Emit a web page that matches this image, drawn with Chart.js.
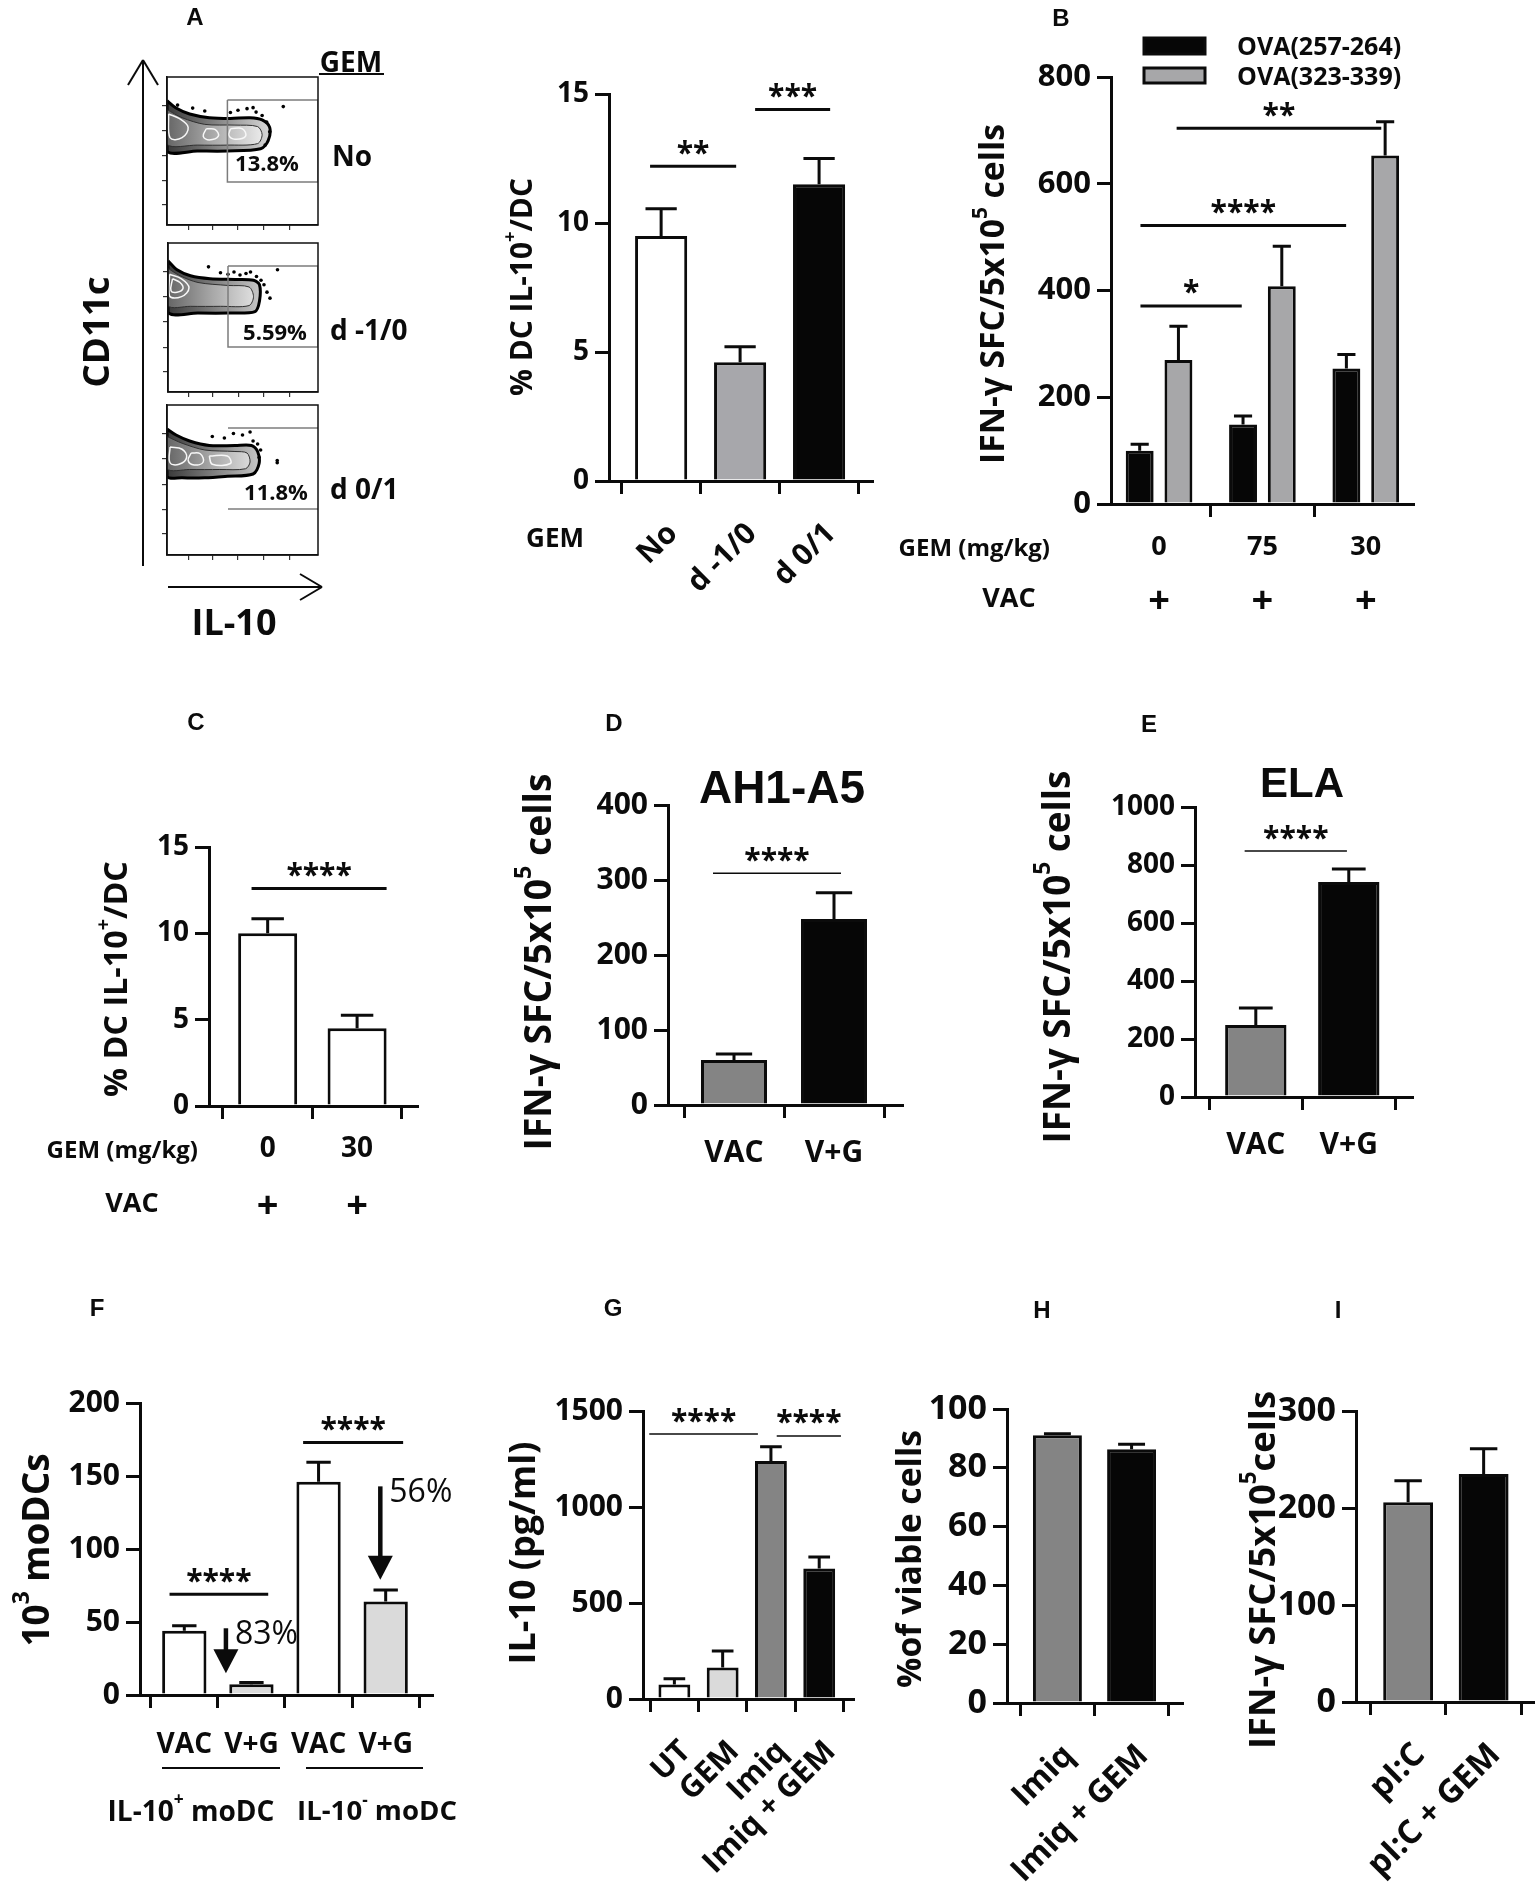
<!DOCTYPE html>
<html lang="en">
<head>
<meta charset="utf-8">
<title>GEM / IL-10 DC figure</title>
<script src="https://cdn.jsdelivr.net/npm/chart.js@4.4.1/dist/chart.umd.min.js"></script>
<style>
  html, body { margin: 0; padding: 0; background: #fff; }
  body { position: relative; width: 1535px; height: 1883px; overflow: hidden; }
  canvas { position: absolute; }
</style>
</head>
<body>
<script>
// ---------- A: flow plots (IL-10 vs CD11c), data space 0..100 ----------
const flowTicks = [14, 30, 47, 64, 81];
const gatePct = ['13.8%', '5.59%', '11.8%'];
const gateGem = ['No', 'd -1/0', 'd 0/1'];

const flow1Outer = [[0,84],[6,79],[15,75],[28,72.5],[42,72],[55,72.5],[63,71],[68,66],[67,57],[62,51.5],[40,50],[20,50],[0,50]];
const flow1Mid = [[0,78],[10,72.5],[25,68],[45,67.5],[60,66.5],[63,61],[60,55],[40,54],[20,54],[0,54.5]];
const flow1Cores = [[[1,75],[8,72],[14,66],[10,59],[2,59]], [[26,65],[32,64.5],[34,60],[28,57.5],[24,60]], [[42,65],[50,65],[52,60],[45,58],[41,60.5]]];
const flow1Dots = [[7,81],[17,79],[25,77],[42,76],[47,77.5],[53,78.6],[57,79.3],[59,76.3],[63,74],[66,69.6],[68,63],[65,54],[77,80]];
const flow1Gate = [[[40,84.5],[100,84.5],[100,29],[40,29],[40,84.5]]];

const flow2Outer = [[0,88],[6,82],[15,78],[28,76],[45,75.5],[57,75],[61,72],[61,61],[58,54],[40,53],[20,53],[0,53.5]];
const flow2Mid = [[0,83],[8,78],[20,73.5],[40,71.5],[54,70.5],[57,64],[54,58],[35,57.5],[15,57.5],[0,58]];
const flow2Cores = [[[1,79],[9,76],[14,70],[9,64],[1,64.5]], [[3,76],[8,73.5],[10,69.5],[6,67],[2,68]]];
const flow2Dots = [[27,84],[35,80],[40,79],[44,80.5],[48,78.5],[52,79.5],[55,80.5],[59,77.5],[62,75],[64,72],[66,67],[68,63],[73,82]];
const flow2Gate = [[[40,84.6],[100,84.6],[100,30.2],[40,30.2],[40,84.6]]];

const flow3Outer = [[0,84],[6,80],[15,76],[28,73],[45,73],[56,73],[60,69],[61,61],[57,54],[40,52.5],[25,51.5],[10,51.5],[0,52.5]];
const flow3Mid = [[0,79],[10,74.5],[25,70],[45,69],[53,68],[55,62],[52,57.5],[35,57],[15,57],[0,57.5]];
const flow3Cores = [[[2,72],[10,70.5],[13,65],[8,60.5],[2,61.5]], [[16,68],[22,67.5],[24,62],[18,60],[14,63]], [[28,66],[40,66],[42,61],[30,60.5]]];
const flow3Dots = [[30,79],[38,78],[44,81],[50,80],[55,82],[57,76],[60,74],[62,70],[61,65],[73,63],[73,61.5]];
const flow3Gate = [[[40.4,84.7],[100,84.7]], [[40.4,30.7],[100,30.7]]];

// ---------- A: bar ----------
const aLabels = ['No', 'd -1/0', 'd 0/1'];
const aMean = [9.5, 4.6, 11.5];
const aSem = [1.05, 0.6, 1.0];
const aTicks = [0, 5, 10, 15];
const aSig = [[-0.14, 0.95, 12.2, '**'], [1.19, 2.14, 14.4, '***']];

// ---------- B ----------
const bDose = ['0', '75', '30'];
const bLegend = ['OVA(257-264)', 'OVA(323-339)'];
const b257 = [100, 149, 254];
const b257Sem = [12, 16, 26];
const b323 = [270, 408, 653];
const b323Sem = [63, 75, 63];
const bTicks = [0, 200, 400, 600, 800];
const bSig = [[-0.18, 0.80, 371, '*'], [-0.18, 1.81, 522, '****'], [0.17, 2.15, 704, '**']];

// ---------- C ----------
const cDose = ['0', '30'];
const cMean = [10.0, 4.5];
const cSem = [0.85, 0.75];
const cTicks = [0, 5, 10, 15];
const cSig = [[-0.18, 1.33, 12.6, '****']];

// ---------- D / E ----------
const deLabels = ['VAC', 'V+G'];
const dMean = [60, 248];
const dSem = [8, 35];
const dTicks = [0, 100, 200, 300, 400];
const dSig = [[-0.21, 1.07, 309, '****']];
const eMean = [248, 741];
const eSem = [59, 45];
const eTicks = [0, 200, 400, 600, 800, 1000];
const eSig = [[-0.12, 0.98, 848, '****']];

// ---------- F ----------
const fLabels = ['VAC', 'V+G', 'VAC', 'V+G'];
const fMean = [44, 7.3, 146, 64];
const fSem = [3.5, 1.2, 13.5, 8];
const fTicks = [0, 50, 100, 150, 200];
const fSig = [[-0.22, 1.25, 69, '****'], [1.77, 3.26, 173, '****']];
const fDrop = [[0.62, 45.7, 14.9, '83%'], [2.92, 142.9, 78.9, '56%']];

// ---------- G / H / I ----------
const gLabels = ['UT', 'GEM', 'Imiq', 'Imiq + GEM'];
const gMean = [76, 164, 1240, 680];
const gSem = [30, 86, 74, 60];
const gTicks = [0, 500, 1000, 1500];
const gSig = [[-0.52, 1.73, 1380, '****'], [2.12, 3.45, 1370, '****']];
const hLabels = ['Imiq', 'Imiq + GEM'];
const hMean = [91.1, 86.3];
const hSem = [0.5, 1.7];
const hTicks = [0, 20, 40, 60, 80, 100];
const iLabels = ['pI:C', 'pI:C + GEM'];
const iMean = [206, 235];
const iSem = [22, 26];
const iTicks = [0, 100, 200, 300];

const INK = '#0b0b0b';
const FF = '"Open Sans", "Noto Sans", sans-serif';
const AF = '"Liberation Sans", Arial, sans-serif';
Chart.defaults.font.family = FF;
Chart.defaults.font.weight = 'bold';
Chart.defaults.color = INK;

function mk(box) {
  const c = document.createElement('canvas');
  c.width = box[2];
  c.height = box[3];
  c.style.left = box[0] + 'px';
  c.style.top = box[1] + 'px';
  document.body.appendChild(c);
  return c;
}

function T(ctx, s, x, y, size, o) {
  o = o || {};
  ctx.font = (o.w || 'bold') + ' ' + size + 'px ' + (o.f || FF);
  ctx.textAlign = o.a || 'center';
  ctx.textBaseline = 'alphabetic';
  const cap = ctx.measureText('H').actualBoundingBoxAscent;
  ctx.fillStyle = o.c || INK;
  ctx.fillText(s, x, y + cap / 2);
}

// text with superscripts, sized to a given length, optionally rotated
function R(ctx, parts, cx, cy, len, rot) {
  const width = size => parts.reduce((w, p) => {
    ctx.font = 'bold ' + (p[1] ? size * 0.62 : size) + 'px ' + FF;
    return w + ctx.measureText(p[0]).width;
  }, 0);
  const size = 100 * len / width(100);
  const total = width(size);
  ctx.save();
  ctx.translate(cx, cy);
  if (rot) ctx.rotate(-Math.PI / 2);
  ctx.font = 'bold ' + size + 'px ' + FF;
  const cap = ctx.measureText('H').actualBoundingBoxAscent;
  ctx.fillStyle = INK;
  ctx.textAlign = 'left';
  ctx.textBaseline = 'alphabetic';
  let x = -total / 2;
  parts.forEach(p => {
    ctx.font = 'bold ' + (p[1] ? size * 0.62 : size) + 'px ' + FF;
    ctx.fillText(p[0], x, cap / 2 - (p[1] ? cap * 0.72 : 0));
    x += ctx.measureText(p[0]).width;
  });
  ctx.restore();
}

function L(ctx, x1, y1, x2, y2, w) {
  ctx.strokeStyle = INK;
  ctx.lineWidth = w || 3;
  ctx.beginPath();
  ctx.moveTo(x1, y1);
  ctx.lineTo(x2, y2);
  ctx.stroke();
}

function sig(ctx, X, Y, s, lw) {
  const y = Y(s[2]);
  L(ctx, X(s[0]), y, X(s[1]), y, lw);
  ctx.font = 'bold 30px ' + FF;
  const m = ctx.measureText('*');
  ctx.fillStyle = INK;
  ctx.textAlign = 'center';
  ctx.textBaseline = 'alphabetic';
  ctx.fillText(s[3], (X(s[0]) + X(s[1])) / 2, y - 19 + (m.actualBoundingBoxAscent - m.actualBoundingBoxDescent) / 2);
}

function arrow(ctx, x, y1, y2) {
  L(ctx, x, y1, x, y2 - 20, 4.5);
  ctx.fillStyle = INK;
  ctx.beginPath();
  ctx.moveTo(x - 12.5, y2 - 24);
  ctx.lineTo(x + 12.5, y2 - 24);
  ctx.lineTo(x, y2);
  ctx.closePath();
  ctx.fill();
}

function drawErr(chart, capW) {
  const ctx = chart.ctx, ys = chart.scales.y;
  chart.data.datasets.forEach((ds, di) => {
    chart.getDatasetMeta(di).data.forEach((bar, i) => {
      const top = ys.getPixelForValue(ds.data[i].y + ds.sem[i]);
      const half = bar.width * capW / 2;
      ctx.save();
      ctx.strokeStyle = INK;
      ctx.lineWidth = 3;
      ctx.beginPath();
      ctx.moveTo(bar.x, bar.y);
      ctx.lineTo(bar.x, top);
      ctx.moveTo(bar.x - half, top);
      ctx.lineTo(bar.x + half, top);
      ctx.stroke();
      ctx.restore();
    });
  });
}

function axisX(p) {
  return {
    type: 'linear', min: p.xr[0], max: p.xr[1], offset: false,
    afterBuildTicks: s => { s.ticks = p.labels.map((_, i) => ({ value: i })); },
    afterFit: s => { s.height = 60; s.paddingLeft = 0; s.paddingRight = 0; },
    ticks: {
      display: !p.rot, callback: v => p.labels[v], font: { size: p.xFont || 28, weight: 'bold' },
      padding: p.xPad ?? 14, autoSkip: false, maxRotation: 0
    },
    grid: { drawOnChartArea: false, tickLength: 13, lineWidth: 3, color: INK },
    border: { color: INK, width: 3 }
  };
}

function axisY(p) {
  return {
    min: 0, max: p.yTicks[p.yTicks.length - 1],
    afterBuildTicks: s => { s.ticks = p.yTicks.map(v => ({ value: v })); },
    afterFit: s => { s.width = 100; s.paddingTop = 0; s.paddingBottom = 0; },
    ticks: { callback: v => String(v), font: { size: p.yFont || 28, weight: 'bold' }, padding: 6 },
    grid: { drawOnChartArea: false, tickLength: 14, lineWidth: 3, color: INK },
    border: { color: INK, width: 3 }
  };
}

function barChart(p) {
  const [bl, bt, bw, bh] = p.box;
  const [ax0, ay0, ax1, ay1] = p.area;
  const datasets = p.series.map(s => ({
    data: s.mean.map((v, i) => ({ x: i, y: v })),
    sem: s.sem,
    backgroundColor: s.color,
    borderColor: INK,
    borderWidth: 3,
    categoryPercentage: p.cp || 1,
    barPercentage: p.bp || 0.66
  }));
  const deco = {
    id: 'deco',
    afterDatasetsDraw(chart) { drawErr(chart, p.capW || 0.55); },
    afterDraw(chart) {
      const ctx = chart.ctx, xs = chart.scales.x, ys = chart.scales.y;
      const X = v => bl + xs.getPixelForValue(v);
      const Y = v => bt + ys.getPixelForValue(v);
      ctx.save();
      ctx.translate(-bl, -bt);
      (p.sig || []).forEach(s => sig(ctx, X, Y, s, p.sigW || 3));
      // slanted category names, right end under the tick
      if (p.rot) p.labels.forEach((s, i) => {
        ctx.save();
        ctx.translate(X(i) + 10, Y(0) + 46);
        ctx.rotate(-Math.PI / 4);
        T(ctx, s, 0, 0, p.xFont, { a: 'right' });
        ctx.restore();
      });
      p.draw(ctx, X, Y);
      ctx.restore();
    }
  };
  new Chart(mk(p.box), {
    type: 'bar',
    data: { datasets },
    options: {
      responsive: false, animation: false, events: [],
      layout: { padding: { left: ax0 - bl - 100, top: ay0 - bt, right: bl + bw - ax1, bottom: bt + bh - ay1 - 60 } },
      plugins: { legend: { display: false }, tooltip: { enabled: false } },
      scales: { x: axisX(p), y: axisY(p) }
    },
    plugins: [deco]
  });
}

function flowChart(box, area, f, draw) {
  const [bl, bt, bw, bh] = box;
  const [ax0, ay0, ax1, ay1] = area;
  const pts = a => a.map(q => ({ x: q[0], y: q[1] }));
  const ring = a => pts(a.concat([a[0]]));
  const shade = (c0, c1, c2) => c => {
    const ca = c.chart.chartArea;
    if (!ca) return c1;
    const g = c.chart.ctx.createLinearGradient(ca.left, 0, ca.left + ca.width * 0.66, 0);
    g.addColorStop(0, c0);
    g.addColorStop(0.45, c1);
    g.addColorStop(1, c2);
    return g;
  };
  const datasets = [
    { order: 10, data: ring(f.outer), showLine: true, fill: 'shape', tension: 0.3, backgroundColor: shade('#3a3a3a', '#7c7c7c', '#d2d2d2'), borderColor: '#000', borderWidth: 3, pointRadius: 0 },
    { order: 9, data: ring(f.mid), showLine: true, fill: 'shape', tension: 0.3, backgroundColor: shade('#666666', '#a8a8a8', '#f0f0f0'), borderColor: '#303030', borderWidth: 1, pointRadius: 0 }
  ];
  f.cores.forEach(c => datasets.push({ order: 8, data: ring(c), showLine: true, fill: false, tension: 0.4, borderColor: '#f7f7f7', borderWidth: 1.5, pointRadius: 0 }));
  datasets.push({ order: 7, data: pts(f.dots), pointRadius: 1.8, pointBackgroundColor: '#000', pointBorderWidth: 0 });
  f.gate.forEach(g => datasets.push({ order: 6, data: pts(g), showLine: true, fill: false, borderColor: '#7c7c7c', borderWidth: 1.5, pointRadius: 0 }));
  const flowAxis = w => ({
    type: 'linear', min: 0, max: 100,
    afterBuildTicks: s => { s.ticks = flowTicks.map(v => ({ value: v })); },
    afterFit: s => { if (w) s.width = 6; else s.height = 6; s.paddingLeft = 0; s.paddingRight = 0; s.paddingTop = 0; s.paddingBottom = 0; },
    ticks: { display: false },
    grid: { drawOnChartArea: false, tickLength: 5, lineWidth: 1.2, color: '#333' },
    border: { color: '#111', width: 1.5 }
  });
  new Chart(mk(box), {
    type: 'scatter',
    data: { datasets },
    options: {
      responsive: false, animation: false, events: [],
      layout: { padding: { left: ax0 - bl - 6, top: ay0 - bt, right: bl + bw - ax1, bottom: bt + bh - ay1 - 6 } },
      plugins: { legend: { display: false }, tooltip: { enabled: false } },
      scales: { x: flowAxis(false), y: flowAxis(true) }
    },
    plugins: [{
      id: 'frame',
      afterDraw(chart) {
        const ctx = chart.ctx, ca = chart.chartArea;
        ctx.save();
        ctx.strokeStyle = '#111';
        ctx.lineWidth = 1.5;
        ctx.strokeRect(ca.left, ca.top, ca.width, ca.height);
        ctx.translate(-bl, -bt);
        draw(ctx);
        ctx.restore();
      }
    }]
  });
}

// ---- A: flow ----
flowChart([0, 0, 440, 660], [167, 77, 318, 225],
  { outer: flow1Outer, mid: flow1Mid, cores: flow1Cores, dots: flow1Dots, gate: flow1Gate },
  ctx => {
    T(ctx, 'A', 195, 16, 24, { f: AF });
    T(ctx, 'GEM', 351, 61, 28);
    L(ctx, 319, 74, 384, 74, 2);
    T(ctx, gatePct[0], 267, 163, 22);
    T(ctx, gateGem[0], 332, 155, 28, { a: 'left' });
    L(ctx, 143, 60, 143, 566, 2);
    L(ctx, 128, 85, 143, 60, 2);
    L(ctx, 158, 85, 143, 60, 2);
    R(ctx, [['CD11c']], 96, 332, 111, true);
    L(ctx, 168, 587, 322, 587, 2);
    L(ctx, 300, 574, 322, 587, 2);
    L(ctx, 300, 600, 322, 587, 2);
    T(ctx, 'IL-10', 234, 622, 36);
  });
flowChart([150, 236, 290, 165], [168, 243, 318, 392],
  { outer: flow2Outer, mid: flow2Mid, cores: flow2Cores, dots: flow2Dots, gate: flow2Gate },
  ctx => {
    T(ctx, gatePct[1], 275, 332, 22);
    T(ctx, gateGem[1], 330, 329, 28, { a: 'left' });
  });
flowChart([150, 398, 290, 170], [167, 405, 318, 555],
  { outer: flow3Outer, mid: flow3Mid, cores: flow3Cores, dots: flow3Dots, gate: flow3Gate },
  ctx => {
    T(ctx, gatePct[2], 276, 492, 22);
    T(ctx, gateGem[2], 330, 488, 28, { a: 'left' });
  });

// ---- A: bars ----
barChart({
  box: [420, 0, 480, 640], area: [609, 94, 872, 481], xr: [-0.66, 2.67],
  labels: aLabels, yTicks: aTicks, yFont: 28, xFont: 30, rot: 45, capW: 0.6,
  series: [{ mean: aMean, sem: aSem, color: ['#ffffff', '#a7a7ab', '#060606'] }],
  sig: aSig,
  draw(ctx) {
    R(ctx, [['% DC IL-10'], ['+', 1], ['/DC']], 521, 287, 218, true);
    T(ctx, 'GEM', 555, 537, 26);
  }
});

// ---- B ----
barChart({
  box: [880, 0, 655, 640], area: [1111, 77, 1413, 504], xr: [-0.465, 2.457],
  labels: bDose, yTicks: bTicks, yFont: 31, xFont: 27, xPad: 14, cp: 0.75, bp: 0.72, capW: 0.65,
  series: [{ mean: b257, sem: b257Sem, color: '#060606' }, { mean: b323, sem: b323Sem, color: '#a7a7a9' }],
  sig: bSig,
  draw(ctx, X) {
    R(ctx, [['IFN-γ SFC/5x10'], ['5', 1], [' cells']], 992, 294, 340, true);
    T(ctx, 'GEM (mg/kg)', 1050, 547, 24, { a: 'right' });
    T(ctx, 'VAC', 1009, 597, 27);
    bDose.forEach((_, i) => T(ctx, '+', X(i), 599, 38));
    ctx.lineWidth = 3;
    ctx.strokeStyle = INK;
    ctx.fillStyle = '#060606';
    ctx.fillRect(1144, 38, 61, 16);
    ctx.strokeRect(1144, 38, 61, 16);
    ctx.fillStyle = '#a7a7a9';
    ctx.fillRect(1144, 68, 61, 15);
    ctx.strokeRect(1144, 68, 61, 15);
    T(ctx, bLegend[0], 1237, 46, 25, { a: 'left' });
    T(ctx, bLegend[1], 1237, 75.5, 25, { a: 'left' });
    T(ctx, 'B', 1061, 17, 24, { f: AF });
  }
});

// ---- C ----
barChart({
  box: [0, 690, 480, 560], area: [209, 847, 417, 1106], xr: [-0.656, 1.67],
  labels: cDose, yTicks: cTicks, yFont: 28, xFont: 28, xPad: 13,
  series: [{ mean: cMean, sem: cSem, color: '#ffffff' }],
  sig: cSig,
  draw(ctx, X) {
    R(ctx, [['% DC IL-10'], ['+', 1], ['/DC']], 115, 979, 236, true);
    T(ctx, 'GEM (mg/kg)', 198, 1149, 24, { a: 'right' });
    T(ctx, 'VAC', 132, 1202, 27);
    cDose.forEach((_, i) => T(ctx, '+', X(i), 1204, 38));
    T(ctx, 'C', 196, 721, 24, { f: AF });
  }
});

// ---- D ----
barChart({
  box: [480, 690, 480, 560], area: [668, 805, 902, 1105], xr: [-0.66, 1.68],
  labels: deLabels, yTicks: dTicks, yFont: 30, xFont: 30, xPad: 17,
  series: [{ mean: dMean, sem: dSem, color: ['#848484', '#060606'] }],
  sig: dSig, sigW: 1.5,
  draw(ctx) {
    R(ctx, [['IFN-γ SFC/5x10'], ['5', 1], [' cells']], 537, 962, 377, true);
    T(ctx, 'AH1-A5', 782, 787, 46, { f: AF });
    T(ctx, 'D', 614, 722, 24, { f: AF });
  }
});

// ---- E ----
barChart({
  box: [990, 690, 545, 560], area: [1195, 807, 1412, 1097], xr: [-0.654, 1.68],
  labels: deLabels, yTicks: eTicks, yFont: 28, xFont: 30, xPad: 17,
  series: [{ mean: eMean, sem: eSem, color: ['#848484', '#060606'] }],
  sig: eSig, sigW: 1.5,
  draw(ctx) {
    R(ctx, [['IFN-γ SFC/5x10'], ['5', 1], [' cells']], 1056, 957, 373, true);
    T(ctx, 'ELA', 1302, 782, 42, { f: AF });
    T(ctx, 'E', 1149, 723, 24, { f: AF });
  }
});

// ---- F ----
barChart({
  box: [0, 1270, 470, 613], area: [140, 1403, 432, 1695], xr: [-0.66, 3.69],
  labels: fLabels, yTicks: fTicks, yFont: 30, xFont: 28, xPad: 20,
  series: [{ mean: fMean, sem: fSem, color: ['#ffffff', '#dadada', '#ffffff', '#dadada'] }],
  sig: fSig,
  draw(ctx, X, Y) {
    R(ctx, [['10'], ['3', 1], [' moDCs']], 35, 1550, 193, true);
    fDrop.forEach(d => {
      arrow(ctx, X(d[0]), Y(d[1]), Y(d[2]));
      T(ctx, d[3], X(d[0]) + 9, Y(d[1]) + 4, 32, { a: 'left', w: 'normal' });
    });
    L(ctx, 162, 1768, 280, 1768, 2);
    L(ctx, 306, 1768, 423, 1768, 2);
    R(ctx, [['IL-10'], ['+', 1], [' moDC']], 191, 1810, 167, false);
    R(ctx, [['IL-10'], ['-', 1], [' moDC']], 377, 1810, 160, false);
    T(ctx, 'F', 97, 1307, 24, { f: AF });
  }
});

// ---- G ----
barChart({
  box: [470, 1270, 420, 613], area: [643, 1411, 853, 1699], xr: [-0.65, 3.70],
  labels: gLabels, yTicks: gTicks, yFont: 30, xFont: 31, rot: 45, capW: 0.68,
  series: [{ mean: gMean, sem: gSem, color: ['#ffffff', '#dadada', '#848484', '#060606'] }],
  sig: gSig, sigW: 1.5,
  draw(ctx) {
    R(ctx, [['IL-10 (pg/ml)']], 522, 1553, 223, true);
    T(ctx, 'G', 613, 1307, 24, { f: AF });
  }
});

// ---- H ----
barChart({
  box: [880, 1270, 330, 613], area: [1007, 1409, 1182, 1703], xr: [-0.68, 1.68],
  labels: hLabels, yTicks: hTicks, yFont: 34, xFont: 32, rot: 45,
  series: [{ mean: hMean, sem: hSem, color: ['#848484', '#060606'] }],
  draw(ctx) {
    R(ctx, [['%of viable cells']], 909, 1559, 258, true);
    T(ctx, 'H', 1042, 1309, 24, { f: AF });
  }
});

// ---- I ----
barChart({
  box: [1215, 1270, 320, 613], area: [1356, 1411, 1535, 1702], xr: [-0.69, 1.68],
  labels: iLabels, yTicks: iTicks, yFont: 34, xFont: 33, rot: 45,
  series: [{ mean: iMean, sem: iSem, color: ['#848484', '#060606'] }],
  draw(ctx) {
    R(ctx, [['IFN-γ SFC/5x10'], ['5', 1], ['cells']], 1262, 1570, 358, true);
    T(ctx, 'I', 1338, 1309, 24, { f: AF });
  }
});
</script>
</body>
</html>
